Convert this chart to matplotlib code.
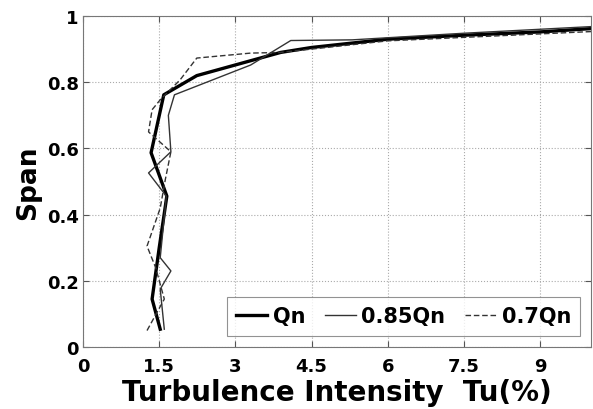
import matplotlib
matplotlib.use("Agg")
import matplotlib.pyplot as plt

plt.rcParams['font.family'] = ['DejaVu Sans']
plt.rcParams['font.weight'] = 'bold'

# Qn (thick solid)
qn_tu = [1.52, 1.36, 1.50, 1.65, 1.34, 1.59, 2.24, 3.89, 4.5, 6.0, 7.5, 9.0, 10.0]
qn_span = [0.054, 0.145, 0.30, 0.456, 0.587, 0.762, 0.82, 0.89, 0.905, 0.930, 0.942, 0.952, 0.962]

# 0.85Qn (thin solid)
q85_tu = [1.60, 1.52, 1.73, 1.52, 1.64, 1.29, 1.73, 1.68, 1.80, 3.30, 4.09, 5.3, 7.5, 10.0]
q85_span = [0.054, 0.175, 0.23, 0.27, 0.456, 0.526, 0.59, 0.70, 0.762, 0.852, 0.926, 0.928, 0.948, 0.968]

# 0.7Qn (dashed)
q70_tu = [1.26, 1.60, 1.43, 1.26, 1.52, 1.62, 1.73, 1.29, 1.36, 1.52, 1.91, 2.24, 3.30, 3.89, 6.0, 10.0]
q70_span = [0.05, 0.145, 0.24, 0.305, 0.42, 0.506, 0.59, 0.65, 0.717, 0.747, 0.807, 0.873, 0.888, 0.89, 0.925, 0.953]

xticks = [0, 1.5, 3, 4.5, 6, 7.5, 9]
xtick_labels = ["0", "1.5", "3", "4.5", "6", "7.5", "9"]
yticks = [0, 0.2, 0.4, 0.6, 0.8, 1.0]
ytick_labels = ["0", "0.2", "0.4", "0.6", "0.8", "1"]

fig = plt.figure(figsize=(5.93, 4.10), dpi=100)
ax = fig.add_axes([0.14, 0.151, 0.8566, 0.8075])

ax.plot(qn_tu, qn_span, color="black", lw=2.4, label="Qn")
ax.plot(q85_tu, q85_span, color="#333333", lw=1.0, label="0.85Qn")
ax.plot(q70_tu, q70_span, color="#333333", lw=1.0, ls=(0, (4, 2)), label="0.7Qn")

ax.set_xlim(0, 10)
ax.set_ylim(0, 1)
ax.set_xticks(xticks)
ax.set_xticklabels(xtick_labels)
ax.set_yticks(yticks)
ax.set_yticklabels(ytick_labels)
ax.tick_params(direction="in", top=True, right=True, labelsize=13, length=4,
               color="#555555")
ax.tick_params(axis="x", pad=7)
ax.tick_params(axis="y", pad=3)
ax.grid(True, ls=":", color="#aaaaaa", lw=0.8)
for s in ax.spines.values():
    s.set_color("#777777")
    s.set_linewidth(0.8)

ax.set_xlabel("Turbulence Intensity  Tu(%)", fontsize=20, fontweight="bold", labelpad=2)
ax.set_ylabel("Span", fontsize=19, fontweight="bold", labelpad=4)

leg = ax.legend(loc="lower right", ncol=3, fontsize=15, frameon=True, fancybox=False,
                edgecolor="#777777", handlelength=1.5, columnspacing=0.95,
                handletextpad=0.25, borderpad=0.45, borderaxespad=0,
                bbox_to_anchor=(0.979, 0.034))
leg.get_frame().set_linewidth(0.8)

fig.savefig("out.png", dpi=100)
